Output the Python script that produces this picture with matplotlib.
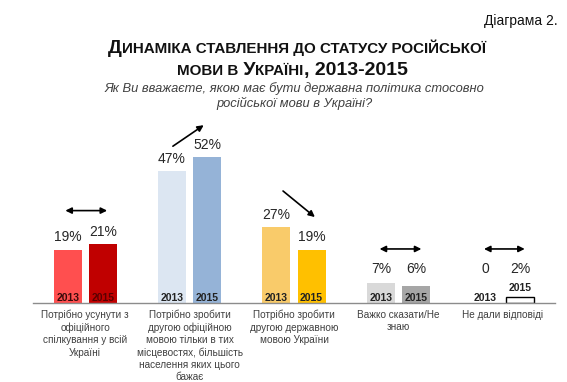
import matplotlib.pyplot as plt
import numpy as np

W, H = 567, 382

categories = [
    "Потрібно усунути з\nофіційного\nспілкування у всій\nУкраїні",
    "Потрібно зробити\nдругою офіційною\nмовою тільки в тих\nмісцевостях, більшість\nнаселення яких цього\nбажає",
    "Потрібно зробити\nдругою державною\nмовою України",
    "Важко сказати/Не\nзнаю",
    "Не дали відповіді",
]
values_2013 = [19, 47, 27, 7, 0]
values_2015 = [21, 52, 19, 6, 2]
labels_2013 = ["19%", "47%", "27%", "7%", "0"]
labels_2015 = ["21%", "52%", "19%", "6%", "2%"]
colors_2013 = ["#FF4F4F", "#DCE6F2", "#F9CB6A", "#D9D9D9", "white"]
colors_2015 = ["#C00000", "#95B3D7", "#FFC000", "#A6A6A6", "white"]
year_colors_2013 = ["#3a0a0a", "#222222", "#222222", "#222222", "#222222"]
year_colors_2015 = ["#5a0000", "#222222", "#222222", "#222222", "#222222"]

# trend arrows: (group, x0 offset, y0, x1 offset, y1, style)
arrows = [
    (0, -0.19, 33, 0.21, 33, "<|-|>"),
    (1, -0.16, 56, 0.135, 63.5, "-|>"),
    (2, -0.105, 40, 0.2, 30.7, "-|>"),
    (3, -0.18, 19.3, 0.22, 19.3, "<|-|>"),
    (4, -0.18, 19.3, 0.21, 19.3, "<|-|>"),
]

plt.rcParams["font.family"] = ["Liberation Sans", "DejaVu Sans"]

fig = plt.figure(figsize=(W / 100, H / 100), dpi=100)
ax = fig.add_axes([33 / W, 79 / H, 522 / W, 182 / H])

x = np.arange(len(categories))
bw = 0.268
off = 0.168

ax.bar(x - off, values_2013, bw, color=colors_2013, edgecolor="none")
for i, v in enumerate(values_2015):
    ax.bar(x[i] + off, v, bw, color=colors_2015[i],
           edgecolor="black" if colors_2015[i] == "white" else "none", linewidth=1)

ax.set_xlim(-0.5, len(categories) - 0.5)
ax.set_ylim(0, 65)
for s in ["top", "right", "left"]:
    ax.spines[s].set_visible(False)
ax.spines["bottom"].set_color("#8c8c8c")
ax.spines["bottom"].set_linewidth(1)
ax.set_yticks([])
ax.set_xticks([])

# value labels and year labels
for i in range(len(categories)):
    for pos, v, lab, yc in [(x[i] - off, values_2013[i], labels_2013[i], year_colors_2013[i]),
                            (x[i] + off, values_2015[i], labels_2015[i], year_colors_2015[i])]:
        ax.annotate(lab, (pos, max(v, 7.5)), xytext=(0, 4), textcoords="offset points",
                    ha="center", va="bottom", fontsize=10, color="#262626")
        yr = "2013" if pos < x[i] else "2015"
        if v >= 5 or v == 0:
            ax.annotate(yr, (pos, 0), xytext=(0, 0), textcoords="offset points",
                        ha="center", va="bottom", fontsize=7.5, fontweight="bold", color=yc)
        else:
            ax.annotate(yr, (pos, v), xytext=(0, 3), textcoords="offset points",
                        ha="center", va="bottom", fontsize=7.5, fontweight="bold", color=yc)

for g, x0, y0, x1, y1, style in arrows:
    ax.annotate("", xy=(g + x1, y1), xytext=(g + x0, y0),
                arrowprops=dict(arrowstyle=style, color="black", lw=1.2, mutation_scale=9,
                                shrinkA=0, shrinkB=0),
                annotation_clip=False)

# category labels under the axis
for i, c in enumerate(categories):
    ax.annotate(c, (x[i], 0), xytext=(0, -5), textcoords="offset points",
                ha="center", va="top", fontsize=7.2, color="#404040", linespacing=1.27)

# title in small caps, built from pieces
def small_caps_line(pieces, cx, base_px):
    r = fig.canvas.get_renderer()
    texts = [fig.text(0, 1 - base_px / H, s, fontsize=sz, fontweight="bold",
                      va="baseline", ha="left", color="#111111") for s, sz in pieces]
    widths = [t.get_window_extent(r).width for t in texts]
    xp = cx - sum(widths) / 2
    for t, w in zip(texts, widths):
        t.set_x(xp / W)
        xp += w

small_caps_line([("Д", 14), ("ИНАМІКА СТАВЛЕННЯ ДО СТАТУСУ РОСІЙСЬКОЇ", 10.9)], 297, 53)
small_caps_line([("МОВИ В", 10.9), (" У", 14), ("КРАЇНІ", 10.9), (", 2013-2015", 14)], 292, 75)

fig.text(294 / W, 1 - 96 / H,
         "Як Ви вважаєте, якою має бути державна політика стосовно\nросійської мови в Україні?",
         ha="center", va="center", fontsize=9.3, style="italic", color="#404040", linespacing=1.15)

fig.text(558 / W, 1 - 21 / H, "Діаграма 2.", ha="right", va="center", fontsize=10,
         color="#111111")

fig.savefig("out.png", dpi=100)
